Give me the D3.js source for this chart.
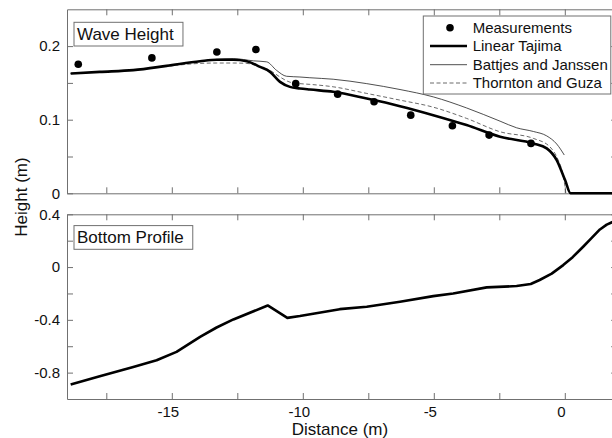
<!DOCTYPE html>
<html>
<head>
<meta charset="utf-8">
<script src="https://cdn.jsdelivr.net/npm/d3@7"></script>
<style>
  body { margin: 0; background: #fff; }
  svg { display: block; font-family: "Liberation Sans", Arial, sans-serif; }
</style>
</head>
<body>
<svg id="chart" width="612" height="438"></svg>
<script>
// ---- Data ----
const measX = [-18.57, -15.76, -13.28, -11.79, -10.27, -8.67, -7.28, -5.88, -4.29, -2.89, -1.29];
const measY = [0.1754, 0.184, 0.192, 0.1954, 0.149, 0.1347, 0.1243, 0.1062, 0.0917, 0.0791, 0.0678];

const tajX = [-18.86, -17.75, -16.47, -15.2, -13.92, -13.29, -12.65, -12.14, -11.63, -11.25, -10.87, -10.49, -10.11, -9.73, -8.84, -7.56, -6.29, -5.02, -3.75, -2.47, -1.2, -0.69, -0.31, 0.01, 0.22, 1.0, 2.0];
const tajY = [0.1628, 0.165, 0.1673, 0.1731, 0.1795, 0.1815, 0.1815, 0.1795, 0.1718, 0.165, 0.1514, 0.1446, 0.1425, 0.141, 0.1379, 0.1287, 0.1184, 0.1062, 0.0927, 0.0768, 0.0678, 0.0611, 0.0452, 0.018, 0.0, 0.0, 0.0];

const bjX = [-18.86, -17.75, -16.47, -15.2, -13.92, -13.29, -12.65, -11.89, -11.38, -11.0, -10.62, -10.11, -9.73, -8.84, -7.56, -6.29, -5.02, -3.75, -2.47, -1.84, -1.2, -0.69, -0.31, -0.02];
const bjY = [0.1628, 0.165, 0.1673, 0.1731, 0.1795, 0.182, 0.183, 0.1800, 0.1786, 0.167, 0.159, 0.158, 0.157, 0.155, 0.149, 0.141, 0.131, 0.116, 0.098, 0.089, 0.084, 0.078, 0.067, 0.052];

const tgX = [-18.86, -17.75, -16.47, -15.2, -13.92, -13.29, -12.65, -12.14, -11.63, -11.25, -10.87, -10.49, -10.11, -9.73, -8.84, -7.56, -6.29, -5.02, -3.75, -2.47, -1.2, -0.57, -0.25, -0.08, 0.0, 0.04];
const tgY = [0.1628, 0.165, 0.1673, 0.1725, 0.1765, 0.177, 0.177, 0.1765, 0.172, 0.167, 0.158, 0.151, 0.149, 0.148, 0.1447, 0.1357, 0.1266, 0.117, 0.1018, 0.0836, 0.0746, 0.0632, 0.045, 0.027, 0.011, 0.0];

const botX = [-18.86, -17.75, -16.47, -15.58, -14.82, -13.92, -13.29, -12.65, -11.34, -10.59, -10.11, -8.59, -7.56, -6.29, -5.02, -4.26, -2.98, -1.84, -1.3, -0.96, -0.5, -0.06, 0.3, 0.7, 1.0, 1.34, 1.6, 1.8, 2.0];
const botY = [-0.89, -0.827, -0.757, -0.706, -0.643, -0.529, -0.458, -0.397, -0.291, -0.385, -0.371, -0.319, -0.301, -0.263, -0.22, -0.2, -0.154, -0.144, -0.128, -0.098, -0.05, 0.015, 0.075, 0.154, 0.215, 0.285, 0.322, 0.34, 0.35];

const xTicks = [-17.5, -15, -12.5, -10, -7.5, -5, -2.5, 0];
const topYTicks = [0, 0.05, 0.1, 0.15, 0.2];
const botYTicks = [-0.8, -0.6, -0.4, -0.2, 0, 0.2, 0.4];
const topYLabels = [0, 0.1, 0.2];
const botYLabels = [-0.8, -0.4, 0, 0.4];

const legendLabels = ["Measurements", "Linear Tajima", "Battjes and Janssen", "Thornton and Guza"];

// ---- Layout ----
const svg = d3.select("#chart");
const axisColor = "#707070";

const x = d3.scaleLinear().domain([-19, 2]).range([67, 617.2]);
const yTop = d3.scaleLinear().domain([0, 0.25]).range([193.3, 9.3]);
const yBot = d3.scaleLinear().domain([-1, 0.4]).range([399, 214.3]);

const fmtX = d => (d % 5 === 0 ? String(d) : "");

function drawAxes(y, yTicks, yLabelSet, showX) {
  const [x0, x1] = x.range();
  const [yb, yt] = y.range();
  const g = svg.append("g");
  const ab = g.append("g").attr("transform", `translate(0,${yb})`)
    .call(d3.axisBottom(x).tickValues(xTicks).tickSizeInner(-6).tickSizeOuter(0).tickPadding(7.5)
      .tickFormat(showX ? fmtX : () => ""));
  g.append("g").attr("transform", `translate(0,${yt})`)
    .call(d3.axisTop(x).tickValues(xTicks).tickSizeInner(-6).tickSizeOuter(0).tickFormat(() => ""));
  g.append("g").attr("transform", `translate(${x0},0)`)
    .call(d3.axisLeft(y).tickValues(yTicks).tickSizeInner(-6).tickSizeOuter(0).tickPadding(7)
      .tickFormat(d => yLabelSet.some(v => Math.abs(v - d) < 1e-9) ? String(+d.toFixed(2)) : ""));
  g.append("g").attr("transform", `translate(${x1},0)`)
    .call(d3.axisRight(y).tickValues(yTicks).tickSizeInner(-6).tickSizeOuter(0).tickFormat(() => ""));
  g.selectAll("path.domain, .tick line").attr("stroke", axisColor).attr("stroke-width", 1);
  g.selectAll("text").attr("font-size", 15).attr("fill", "#111")
    .attr("font-family", '"Liberation Sans", Arial, sans-serif');
  ab.selectAll("text").attr("dx", -4);
  return g;
}

drawAxes(yTop, topYTicks, topYLabels, false);
drawAxes(yBot, botYTicks, botYLabels, true);

// clip paths (slightly padded so thick lines along the edge stay visible)
svg.append("clipPath").attr("id", "clipTop").append("rect")
  .attr("x", x.range()[0] - 2).attr("y", yTop.range()[1] - 2)
  .attr("width", x.range()[1] - x.range()[0] + 4).attr("height", yTop.range()[0] - yTop.range()[1] + 4);
svg.append("clipPath").attr("id", "clipBot").append("rect")
  .attr("x", x.range()[0] - 2).attr("y", yBot.range()[1] - 2)
  .attr("width", x.range()[1] - x.range()[0] + 4).attr("height", yBot.range()[0] - yBot.range()[1] + 4);

const lineTop = d3.line().x(d => x(d[0])).y(d => yTop(d[1])).curve(d3.curveMonotoneX);
const lineBot = d3.line().x(d => x(d[0])).y(d => yBot(d[1]));

const gTop = svg.append("g").attr("clip-path", "url(#clipTop)");
gTop.append("path").datum(d3.zip(bjX, bjY)).attr("d", lineTop)
  .attr("fill", "none").attr("stroke", "#222").attr("stroke-width", 0.8);
gTop.append("path").datum(d3.zip(tgX, tgY)).attr("d", lineTop)
  .attr("fill", "none").attr("stroke", "#444").attr("stroke-width", 0.8).attr("stroke-dasharray", "4,2.5");
gTop.append("path").datum(d3.zip(tajX, tajY)).attr("d", lineTop)
  .attr("fill", "none").attr("stroke", "#000").attr("stroke-width", 2.6).attr("stroke-linejoin", "round");
gTop.selectAll("circle.meas").data(d3.zip(measX, measY)).enter().append("circle")
  .attr("class", "meas").attr("cx", d => x(d[0])).attr("cy", d => yTop(d[1])).attr("r", 3.8).attr("fill", "#000");

const gBot = svg.append("g").attr("clip-path", "url(#clipBot)");
gBot.append("path").datum(d3.zip(botX, botY)).attr("d", lineBot)
  .attr("fill", "none").attr("stroke", "#000").attr("stroke-width", 2.6).attr("stroke-linejoin", "round");

// panel labels with boxes
function panelLabel(txt, tx, baseline) {
  const g = svg.append("g");
  const t = g.append("text").attr("x", tx).attr("y", baseline).text(txt)
    .attr("font-size", 17).attr("fill", "#111");
  const bb = t.node().getBBox();
  g.insert("rect", "text").attr("x", tx - 3).attr("y", baseline - 17.7)
    .attr("width", bb.width + 12).attr("height", 23.7)
    .attr("fill", "#fff").attr("stroke", axisColor).attr("stroke-width", 1);
}
panelLabel("Wave Height", 77, 40);
panelLabel("Bottom Profile", 77, 243.3);

// legend
const lg = svg.append("g");
lg.append("rect").attr("x", 423.3).attr("y", 16).attr("width", 187.5).attr("height", 78)
  .attr("fill", "#fff").attr("stroke", axisColor).attr("stroke-width", 1);
const rowY = [27.7, 46, 64.7, 83];
legendLabels.forEach((lab, i) => {
  const yy = rowY[i];
  if (i === 0) {
    lg.append("circle").attr("cx", 450).attr("cy", yy).attr("r", 3.8).attr("fill", "#000");
  } else {
    const ln = lg.append("line").attr("x1", 430).attr("x2", 467).attr("y1", yy).attr("y2", yy);
    if (i === 1) ln.attr("stroke", "#000").attr("stroke-width", 2.6);
    if (i === 2) ln.attr("stroke", "#222").attr("stroke-width", 0.8);
    if (i === 3) ln.attr("stroke", "#444").attr("stroke-width", 0.8).attr("stroke-dasharray", "4,2.5");
  }
  lg.append("text").attr("x", 472.7).attr("y", yy).attr("dy", "0.36em").text(lab)
    .attr("font-size", 15).attr("fill", "#111");
});

// axis titles
svg.append("text").attr("x", 340).attr("y", 435).attr("text-anchor", "middle")
  .attr("font-size", 17).attr("fill", "#111").text("Distance (m)");
svg.append("text").attr("transform", "translate(27,197) rotate(-90)").attr("text-anchor", "middle")
  .attr("font-size", 17).attr("fill", "#111").text("Height (m)");
</script>
</body>
</html>
